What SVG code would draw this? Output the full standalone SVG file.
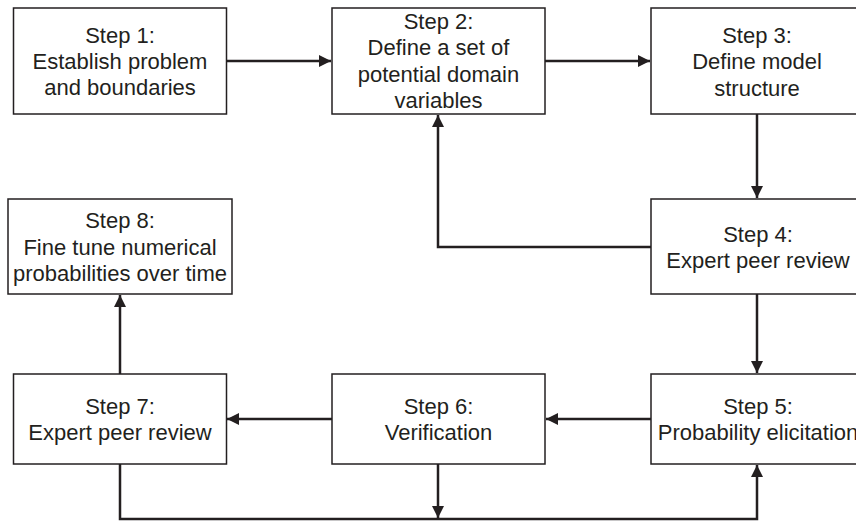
<svg xmlns="http://www.w3.org/2000/svg" width="856" height="522" viewBox="0 0 856 522">
<defs>
<style>
.box{fill:#fff;stroke:#231f20;stroke-width:1.5}
.t{font-family:"Liberation Sans",Arial,sans-serif;font-size:22px;fill:#231f20;text-anchor:middle}
.c{fill:none;stroke:#231f20;stroke-width:2.5}
</style>
<marker id="ah" markerUnits="userSpaceOnUse" markerWidth="12" markerHeight="12" refX="12" refY="6" orient="auto">
<path d="M0,0 L12,6 L0,12 z" fill="#231f20"/>
</marker>
</defs>
<rect width="856" height="522" fill="#fff"/>
<g id="connectors">
<path class="c" d="M227,61 H331" marker-end="url(#ah)"/>
<path class="c" d="M545,61 H650" marker-end="url(#ah)"/>
<path class="c" d="M757,114 V198" marker-end="url(#ah)"/>
<path class="c" d="M651,247 H438 V115" marker-end="url(#ah)"/>
<path class="c" d="M757,294 V373" marker-end="url(#ah)"/>
<path class="c" d="M651,419 H546" marker-end="url(#ah)"/>
<path class="c" d="M332,419 H227" marker-end="url(#ah)"/>
<path class="c" d="M120,374 V295" marker-end="url(#ah)"/>
<path class="c" d="M120,464 V519 H757 V465" marker-end="url(#ah)"/>
<path class="c" d="M438,464 V518" marker-end="url(#ah)"/>
</g>
<g id="step1">
<rect class="box" x="13.5" y="8" width="213" height="106"/>
<text class="t" x="120" y="43">Step 1:</text>
<text class="t" x="120" y="69">Establish problem</text>
<text class="t" x="120" y="95">and boundaries</text>
</g>
<g id="step2">
<rect class="box" x="332" y="8" width="213" height="106"/>
<text class="t" x="438.5" y="28.5">Step 2:</text>
<text class="t" x="438.5" y="55">Define a set of</text>
<text class="t" x="438.5" y="81.5">potential domain</text>
<text class="t" x="438.5" y="108">variables</text>
</g>
<g id="step3">
<rect class="box" x="651" y="8" width="213" height="106"/>
<text class="t" x="757" y="43">Step 3:</text>
<text class="t" x="757" y="69">Define model</text>
<text class="t" x="757" y="96">structure</text>
</g>
<g id="step4">
<rect class="box" x="651" y="199" width="213" height="95"/>
<text class="t" x="758" y="242">Step 4:</text>
<text class="t" x="758" y="268">Expert peer review</text>
</g>
<g id="step5">
<rect class="box" x="651" y="374" width="213" height="90"/>
<text class="t" x="758" y="414">Step 5:</text>
<text class="t" x="758" y="440">Probability elicitation</text>
</g>
<g id="step6">
<rect class="box" x="332" y="374" width="213" height="90"/>
<text class="t" x="438.5" y="414">Step 6:</text>
<text class="t" x="438.5" y="440">Verification</text>
</g>
<g id="step7">
<rect class="box" x="13.5" y="374" width="213" height="90"/>
<text class="t" x="120" y="414">Step 7:</text>
<text class="t" x="120" y="440">Expert peer review</text>
</g>
<g id="step8">
<rect class="box" x="8" y="199" width="224" height="95"/>
<text class="t" x="120" y="228">Step 8:</text>
<text class="t" x="120" y="255">Fine tune numerical</text>
<text class="t" x="120" y="281">probabilities over time</text>
</g>
</svg>
